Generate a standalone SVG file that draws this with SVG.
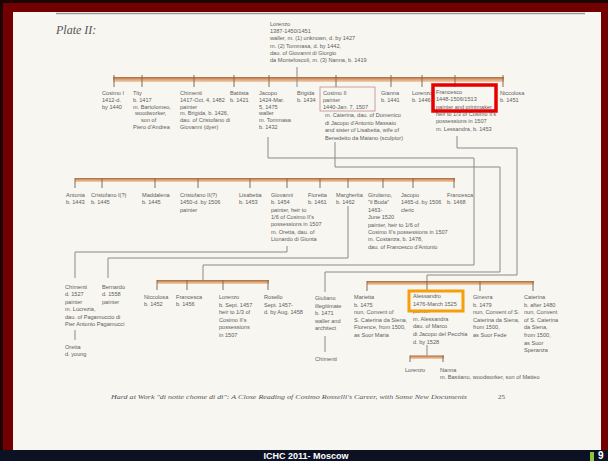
<svg xmlns="http://www.w3.org/2000/svg" width="608" height="461" viewBox="0 0 608 461">
<defs>
<linearGradient id="barg" x1="0" y1="0" x2="0" y2="1">
<stop offset="0" stop-color="#a86a40"/><stop offset="0.5" stop-color="#dca272"/><stop offset="1" stop-color="#f0d2b4"/>
</linearGradient>
</defs>
<style>
.t{font-family:"Liberation Sans",Arial,sans-serif;font-size:5.6px;fill:#606060}
.c{fill:none;stroke:#8a8a8a;stroke-width:1}
.bar{fill:url(#barg)}
.tk{stroke:#866a56;stroke-width:1}
</style>
<rect width="608" height="461" fill="#1c0404"/>
<rect x="3" y="3" width="605" height="450" fill="#730000"/>
<rect x="13" y="12" width="588" height="438" fill="#f7f6f1"/>
<rect x="0" y="450" width="608" height="11" fill="#0c1124"/>
<line x1="56" y1="13.5" x2="585" y2="13.5" stroke="#9a9a9a" stroke-width="1.5"/>
<text x="56" y="34" font-family="Liberation Serif,serif" font-style="italic" font-size="12" fill="#555">Plate II:</text>

<g id="bars">
<rect class="bar" x="113" y="77" width="391" height="5"/>
<rect class="bar" x="75" y="178" width="380" height="4"/>
<rect class="bar" x="157" y="280" width="112" height="4"/>
<rect class="bar" x="367" y="281" width="167" height="4"/>
<rect class="bar" x="410" y="355.5" width="34" height="3.5"/>
</g>

<g id="connectors">
<line class="c" x1="297" y1="67" x2="297" y2="87"/>
<path class="tk" d="M114 75V87M142 75V87M194 75V87M234 75V87M269 75V87M336 75V87M391 75V87M422 75V87M455 75V87M503 75V87"/>
<path class="tk" d="M75 178V188M102 178V188M155 178V188M198 178V188M250 178V188M287 178V188M320 178V188M348 178V188M383 178V188M413 178V188M454 178V188"/>
<path class="tk" d="M157 280V290M187 280V290M223 280V290M268 280V290"/>
<path class="tk" d="M367 281V291M427 281V291M480 281V291M533 281V291"/>
<path class="tk" d="M410 355.5V362M443 355.5V362"/>
<path class="c" d="M268 137V158H474V265H203V280"/>
<path class="c" d="M335 142V167H500V272H325V292"/>
<path class="c" d="M457 136V148H517V275H427V281"/>
<path class="c" d="M287 246V252H75V278"/>
<path class="c" d="M348 206V258H108V278"/>
<path class="c" d="M75 330V340"/>
<path class="c" d="M325 336V352"/>
<path class="c" d="M427 345V355.5"/>
</g>

<g id="lorenzo"><text class="t" x="270" y="26"><tspan x="270">Lorenzo</tspan><tspan x="270" dy="7.2">1387-1450/1451</tspan><tspan x="270" dy="7.2">waller, m. (1) unknown, d. by 1427</tspan><tspan x="270" dy="7.2">m. (2) Tommasa, d. by 1442,</tspan><tspan x="270" dy="7.2">dau. of Giovanni di Giorgio</tspan><tspan x="270" dy="7.2">da Montefoscoli, m. (3) Nanna, b. 1419</tspan></text></g>

<g id="cosimo1"><text class="t" x="102" y="95"><tspan x="102">Cosimo I</tspan><tspan x="102" dy="6.8">1412-d.</tspan><tspan x="102" dy="6.8">by 1440</tspan></text></g>
<g id="tity"><text class="t" x="133" y="95"><tspan x="133">Tity</tspan><tspan x="133" dy="6.8">b. 1417</tspan><tspan x="133" dy="6.8">m. Bartolomeo,</tspan><tspan x="135" dy="6.8">woodworker,</tspan><tspan x="141" dy="6.8">son of</tspan><tspan x="133" dy="6.8">Piero d'Andrea</tspan></text></g>
<g id="chimenti1"><text class="t" x="180" y="95"><tspan x="180">Chimenti</tspan><tspan x="180" dy="6.8">1417-Oct. 4, 1482</tspan><tspan x="180" dy="6.8">painter</tspan><tspan x="180" dy="6.8">m. Brigida, b. 1426,</tspan><tspan x="180" dy="6.8">dau. of Cristofano di</tspan><tspan x="180" dy="6.8">Giovanni (dyer)</tspan></text></g>
<g id="battista"><text class="t" x="230" y="95"><tspan x="230">Battista</tspan><tspan x="230" dy="6.8">b. 1421</tspan></text></g>
<g id="jacopo1"><text class="t" x="259" y="95"><tspan x="259">Jacopo</tspan><tspan x="259" dy="6.8">1424-Mar.</tspan><tspan x="259" dy="6.8">5, 1475</tspan><tspan x="259" dy="6.8">waller</tspan><tspan x="259" dy="6.8">m. Tommasa</tspan><tspan x="259" dy="6.8">b. 1432</tspan></text></g>
<g id="brigida"><text class="t" x="297" y="95"><tspan x="297">Brigida</tspan><tspan x="297" dy="6.8">b. 1434</tspan></text></g>
<g id="cosimo2">
<rect x="320" y="87" width="55" height="24" fill="none" stroke="#c48a8a" stroke-width="0.8"/>
<text class="t" x="323" y="95"><tspan x="323">Cosimo II</tspan><tspan x="323" dy="6.8">painter</tspan><tspan x="323" dy="6.8">1440-Jan. 7, 1507</tspan></text>
<text class="t" x="325" y="117"><tspan x="325">m. Caterina, dau. of Domenico</tspan><tspan x="325" dy="7.5">di Jacopo d'Antonio Massaio</tspan><tspan x="325" dy="7.5">and sister of Lisabetta, wife of</tspan><tspan x="325" dy="7.5">Benedetto da Maiano (sculptor)</tspan></text>
</g>
<g id="gianna"><text class="t" x="381" y="95"><tspan x="381">Gianna</tspan><tspan x="381" dy="6.8">b. 1441</tspan></text></g>
<g id="lorenzo1"><text class="t" x="412" y="95"><tspan x="412">Lorenzo</tspan><tspan x="412" dy="6.8">b. 1446</tspan></text></g>
<g id="francesco">
<text class="t" x="436" y="94"><tspan x="436">Francesco</tspan><tspan x="436" dy="7.3">1448-1506/1513</tspan><tspan x="436" dy="7.3">painter and printmaker</tspan><tspan x="436" dy="7.3">heir to 1/3 of Cosimo II's</tspan><tspan x="436" dy="7.3">possessions in 1507</tspan><tspan x="436" dy="7.3">m. Lessandra, b. 1453</tspan></text>
<rect x="433" y="85" width="63" height="26" fill="none" stroke="#e80000" stroke-width="3.5"/>
</g>
<g id="niccolosa1"><text class="t" x="500" y="95"><tspan x="500">Niccolosa</tspan><tspan x="500" dy="6.8">b. 1451</tspan></text></g>

<g id="antonia"><text class="t" x="66" y="197"><tspan x="66">Antonia</tspan><tspan x="66" dy="7.3">b. 1443</tspan></text></g>
<g id="cristofano1"><text class="t" x="91" y="197"><tspan x="91">Cristofano I(?)</tspan><tspan x="91" dy="7.3">b. 1445</tspan></text></g>
<g id="maddalena"><text class="t" x="142" y="197"><tspan x="142">Maddalena</tspan><tspan x="142" dy="7.3">b. 1445</tspan></text></g>
<g id="cristofano2"><text class="t" x="180" y="197"><tspan x="180">Cristofano II(?)</tspan><tspan x="180" dy="7.3">1450-d. by 1506</tspan><tspan x="180" dy="7.3">painter</tspan></text></g>
<g id="lisabetta"><text class="t" x="239" y="197"><tspan x="239">Lisabetta</tspan><tspan x="239" dy="7.3">b. 1453</tspan></text></g>
<g id="giovanni"><text class="t" x="271" y="197"><tspan x="271">Giovanni</tspan><tspan x="271" dy="7.3">b. 1454</tspan><tspan x="271" dy="7.3">painter, heir to</tspan><tspan x="271" dy="7.3">1/6 of Cosimo II's</tspan><tspan x="271" dy="7.3">possessions in 1507</tspan><tspan x="271" dy="7.3">m. Oretta, dau. of</tspan><tspan x="271" dy="7.3">Lionardo di Giunta</tspan></text></g>
<g id="fioretta"><text class="t" x="308" y="197"><tspan x="308">Fioretta</tspan><tspan x="308" dy="7.3">b. 1461</tspan></text></g>
<g id="margherita"><text class="t" x="336" y="197"><tspan x="336">Margherita</tspan><tspan x="336" dy="7.3">b. 1462</tspan></text></g>
<g id="girolamo"><text class="t" x="368" y="197"><tspan x="368">Girolamo,</tspan><tspan x="368" dy="7.4">"il Buda"</tspan><tspan x="368" dy="7.4">1463-</tspan><tspan x="368" dy="7.4">June 1520</tspan><tspan x="368" dy="7.4">painter, heir to 1/6 of</tspan><tspan x="368" dy="7.4">Cosimo II's possessions in 1507</tspan><tspan x="368" dy="7.4">m. Costanza, b. 1478,</tspan><tspan x="368" dy="7.4">dau. of Francesco d'Antonio</tspan></text></g>
<g id="jacopo2"><text class="t" x="401" y="197"><tspan x="401">Jacopo</tspan><tspan x="401" dy="7.3">1465-d. by 1506</tspan><tspan x="401" dy="7.3">cleric</tspan></text></g>
<g id="francesca1"><text class="t" x="447" y="197"><tspan x="447">Francesca</tspan><tspan x="447" dy="7.3">b. 1468</tspan></text></g>

<g id="chimenti2"><text class="t" x="65" y="289"><tspan x="65">Chimenti</tspan><tspan x="65" dy="7.4">d. 1527</tspan><tspan x="65" dy="7.4">painter</tspan><tspan x="65" dy="7.4">m. Lucrezia,</tspan><tspan x="65" dy="7.4">dau. of Pagamuccio di</tspan><tspan x="65" dy="7.4">Pier Antonio Pagamucci</tspan></text></g>
<g id="bernardo"><text class="t" x="102" y="289"><tspan x="102">Bernardo</tspan><tspan x="102" dy="7.4">d. 1558</tspan><tspan x="102" dy="7.4">painter</tspan></text></g>
<g id="oretta"><text class="t" x="65" y="349"><tspan x="65">Oretta</tspan><tspan x="65" dy="7.4">d. young</tspan></text></g>
<g id="niccolosa2"><text class="t" x="144" y="299"><tspan x="144">Niccolosa</tspan><tspan x="144" dy="7.4">b. 1452</tspan></text></g>
<g id="francesca2"><text class="t" x="176" y="299"><tspan x="176">Francesca</tspan><tspan x="176" dy="7.4">b. 1456</tspan></text></g>
<g id="lorenzo2"><text class="t" x="219" y="299"><tspan x="219">Lorenzo</tspan><tspan x="219" dy="7.5">b. Sept. 1457</tspan><tspan x="219" dy="7.5">heir to 1/3 of</tspan><tspan x="219" dy="7.5">Cosimo II's</tspan><tspan x="219" dy="7.5">possessions</tspan><tspan x="219" dy="7.5">in 1507</tspan></text></g>
<g id="rosello"><text class="t" x="264" y="299"><tspan x="264">Rosello</tspan><tspan x="264" dy="7.5">Sept. 1457-</tspan><tspan x="264" dy="7.5">d. by Aug. 1458</tspan></text></g>
<g id="giuliano"><text class="t" x="315" y="300"><tspan x="315">Giuliano</tspan><tspan x="315" dy="7.5">illegitimate</tspan><tspan x="315" dy="7.5">b. 1471</tspan><tspan x="315" dy="7.5">waller and</tspan><tspan x="315" dy="7.5">architect</tspan></text></g>
<g id="chimenti3"><text class="t" x="315" y="361">Chimenti</text></g>
<g id="marietta"><text class="t" x="354" y="299"><tspan x="354">Marietta</tspan><tspan x="354" dy="7.5">b. 1475</tspan><tspan x="354" dy="7.5">nun, Convent of</tspan><tspan x="354" dy="7.5">S. Caterina da Siena,</tspan><tspan x="354" dy="7.5">Florence, from 1500,</tspan><tspan x="354" dy="7.5">as Suor Maria</tspan></text></g>
<g id="alessandro">
<text class="t" x="413" y="298"><tspan x="413">Alessandro</tspan><tspan x="413" dy="7.6">1476-March 1525</tspan><tspan x="413" dy="7.6">painter</tspan><tspan x="413" dy="7.6">m. Alessandra</tspan><tspan x="413" dy="7.6">dau. of Marco</tspan><tspan x="413" dy="7.6">di Jacopo del Pecchia</tspan><tspan x="413" dy="7.6">d. by 1528</tspan></text>
<rect x="409" y="291" width="54" height="20" fill="none" stroke="#f5a00a" stroke-width="3"/>
</g>
<g id="ginevra"><text class="t" x="473" y="299"><tspan x="473">Ginevra</tspan><tspan x="473" dy="7.5">b. 1479</tspan><tspan x="473" dy="7.5">nun, Convent of S.</tspan><tspan x="473" dy="7.5">Caterina da Siena,</tspan><tspan x="473" dy="7.5">from 1500,</tspan><tspan x="473" dy="7.5">as Suor Fede</tspan></text></g>
<g id="caterina"><text class="t" x="524" y="299"><tspan x="524">Caterina</tspan><tspan x="524" dy="7.6">b. after 1480</tspan><tspan x="524" dy="7.6">nun, Convent</tspan><tspan x="524" dy="7.6">of S. Caterina</tspan><tspan x="524" dy="7.6">da Siena,</tspan><tspan x="524" dy="7.6">from 1500,</tspan><tspan x="524" dy="7.6">as Suor</tspan><tspan x="524" dy="7.6">Speranza</tspan></text></g>
<g id="lorenzo3"><text class="t" x="405" y="372">Lorenzo</text></g>
<g id="nanna"><text class="t" x="440" y="372"><tspan x="440">Nanna</tspan><tspan x="440" dy="7.4">m. Bastiano, woodworker, son of Matteo</tspan></text></g>

<text x="111" y="399" font-family="Liberation Serif,serif" font-style="italic" font-size="7" fill="#555" textLength="356" lengthAdjust="spacingAndGlyphs">Hard at Work "di notte chome di dì": A Close Reading of Cosimo Rosselli's Career, with Some New Documents</text>
<text x="498" y="399" font-family="Liberation Serif,serif" font-size="7" fill="#555">25</text>

<text x="306" y="458.5" text-anchor="middle" font-family="Liberation Sans,Arial,sans-serif" font-weight="bold" font-size="9" fill="#ffffff">ICHC 2011- Moscow</text>
<rect x="590" y="452" width="4" height="9" fill="#8cc63f"/>
<text x="598" y="459" font-family="Liberation Sans,Arial,sans-serif" font-weight="bold" font-size="10" fill="#ffffff">9</text>
</svg>
